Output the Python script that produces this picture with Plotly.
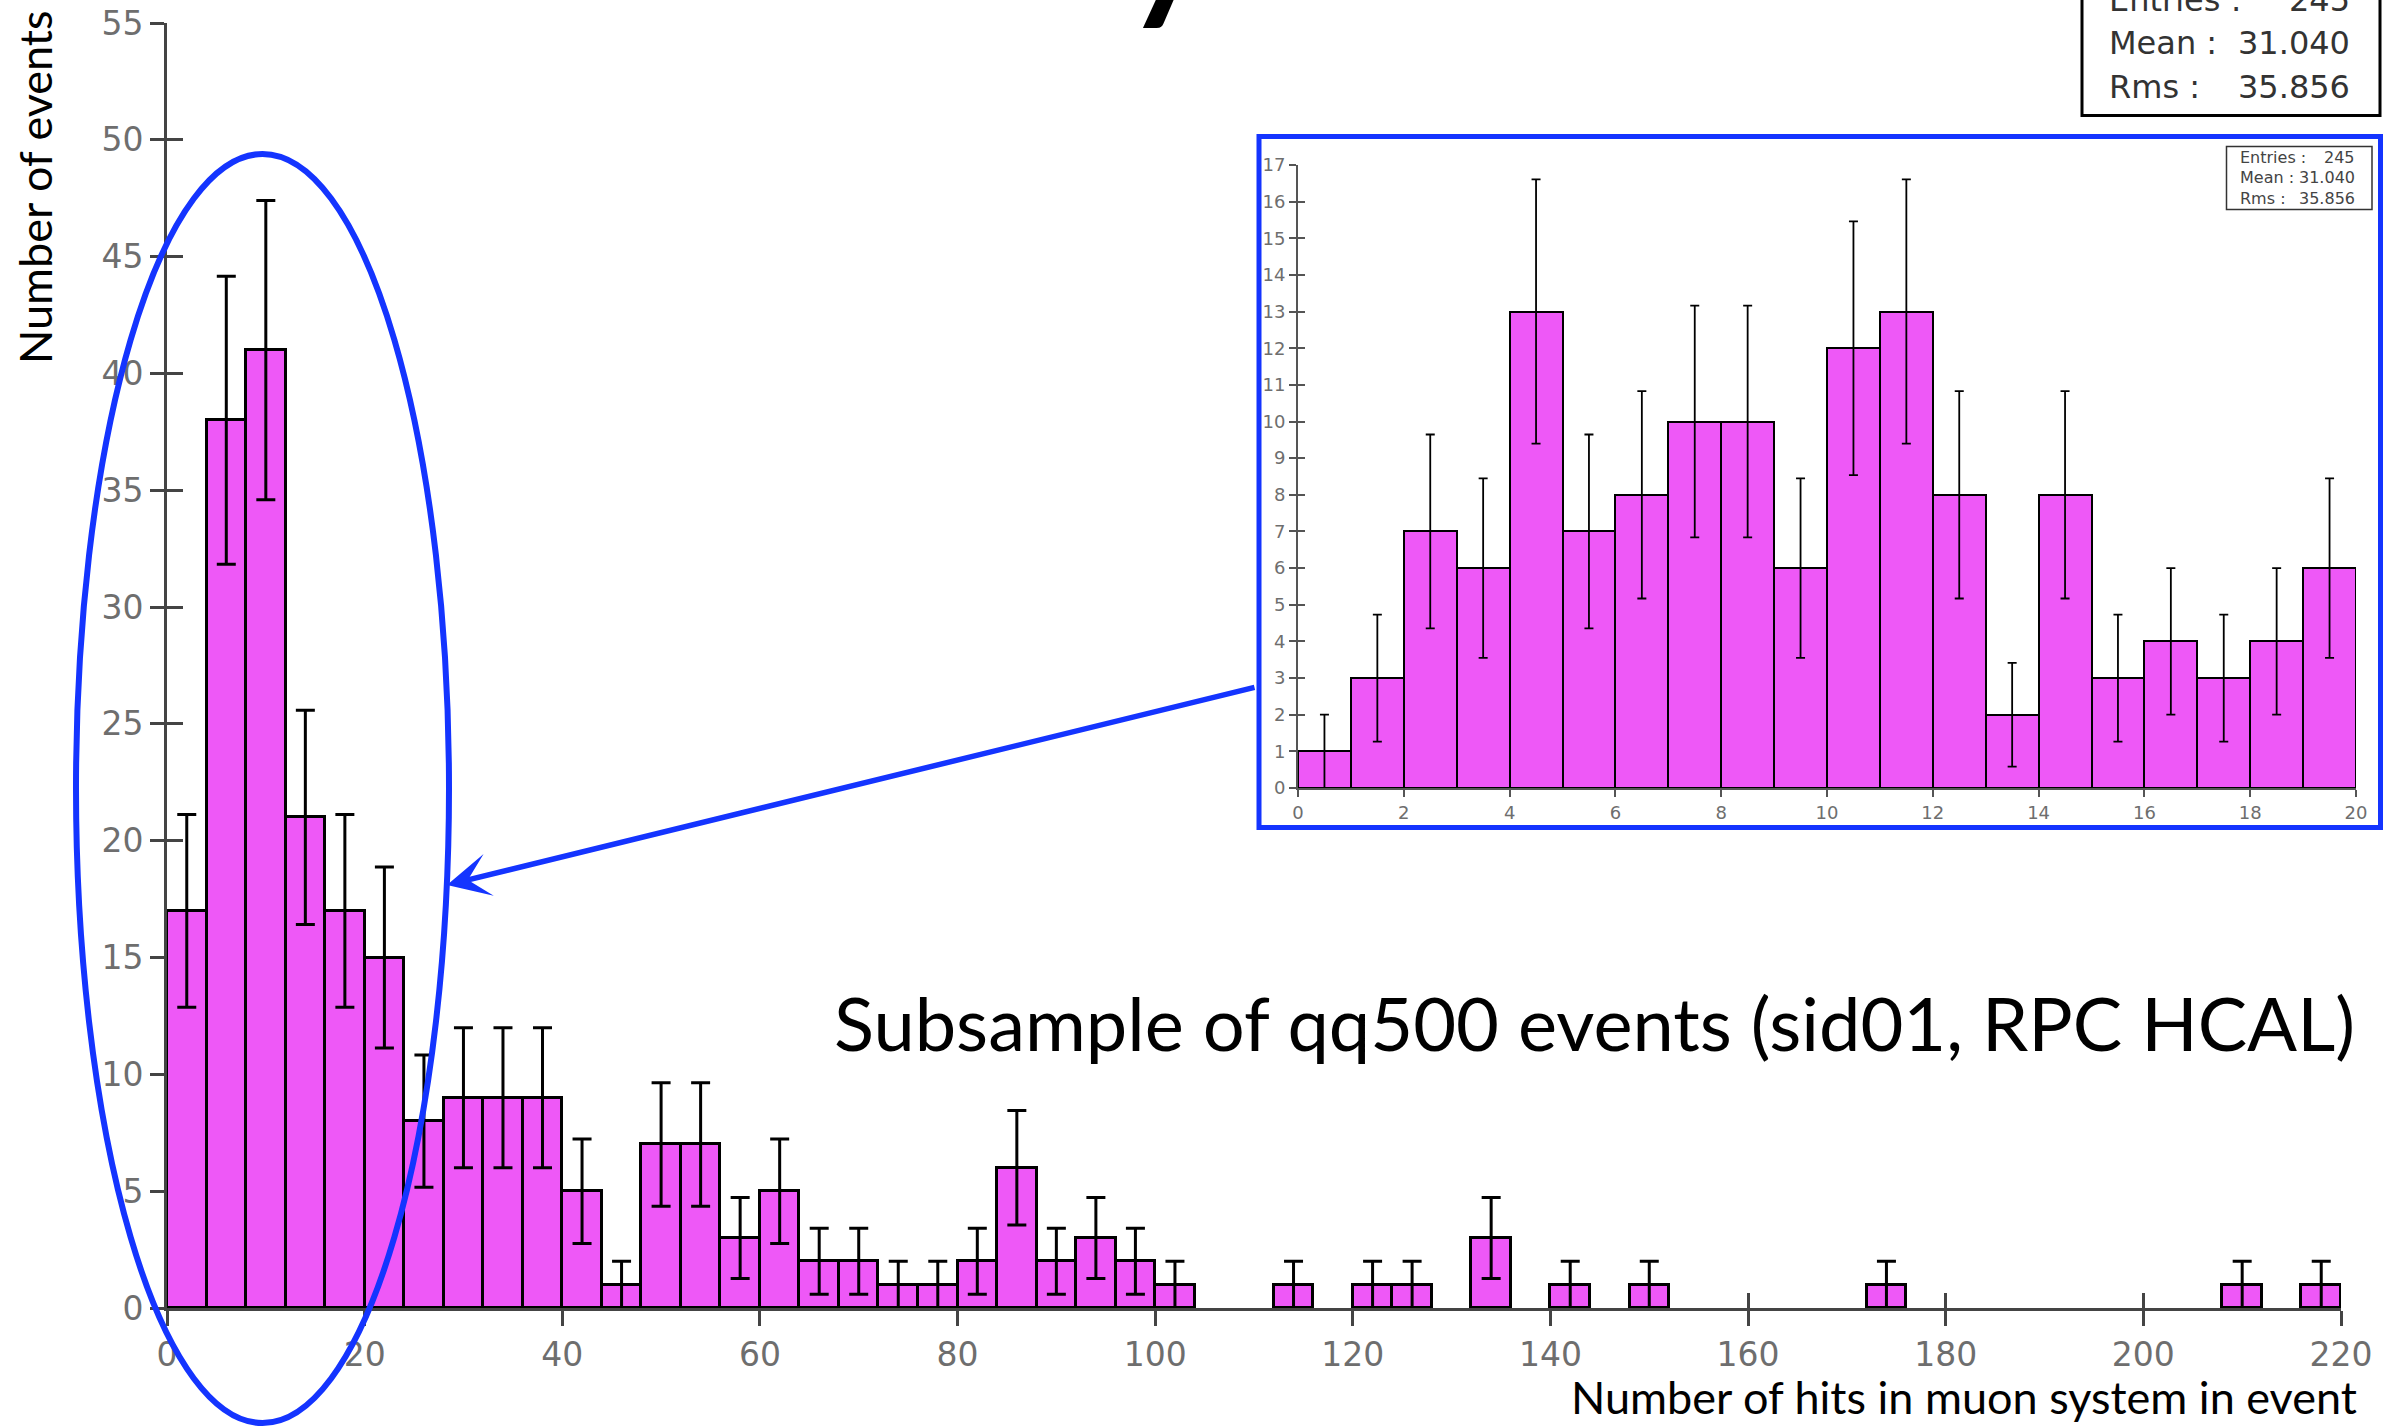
import numpy as np
import plotly.graph_objects as go

W, H = 2384, 1427

# ---------------- data ----------------
main_bin_width = 4
main_bin_left = list(range(0, 220, 4))          # 55 bins, 0..220
main_counts = [17, 38, 41, 21, 17, 15, 8, 9, 9, 9,
               5, 1, 7, 7, 3, 5, 2, 2, 1, 1,
               2, 6, 2, 3, 2, 1, 0, 0, 1, 0,
               1, 1, 0, 3, 0, 1, 0, 1, 0, 0,
               0, 0, 0, 1, 0, 0, 0, 0, 0, 0,
               0, 0, 1, 0, 1]

inset_bin_width = 1
inset_bin_left = list(range(0, 20))
inset_counts = [1, 3, 7, 6, 13, 7, 8, 10, 10, 6,
                12, 13, 8, 2, 8, 3, 4, 3, 4, 6]

main_xticks = list(range(0, 221, 20))
main_yticks = list(range(0, 56, 5))
inset_xticks = list(range(0, 21, 2))
inset_yticks = list(range(0, 18, 1))

stats_labels = ["Entries :", "Mean :", "Rms :"]
stats_values = ["245", "31.040", "35.856"]

title_text = "Muon system hits"
subtitle_text = "Subsample of qq500 events (sid01, RPC HCAL)"
x_title = "Number of hits in muon system in event"
y_title = "Number of events"

# ---------------- helpers ----------------
def px(x):
    return x / W

def py(y):
    return 1 - y / H

MAGENTA = "#EE58F7"
BLUE = "#1434FF"
AXGRAY = "#444444"
LABGRAY = "#6e6e6e"

DESC = {"Lato": 0.213, "DejaVu Sans": 0.236}

annotations = []

def text_at(text, x, baseline, size, family, xanchor="left", color="black"):
    bottom = baseline + DESC[family] * size + 1
    annotations.append(dict(
        text=text, x=px(x), y=py(bottom), xref="paper", yref="paper",
        xanchor=xanchor, yanchor="bottom", showarrow=False,
        font=dict(family=family, size=size, color=color)))

# ---------------- traces ----------------
mc = np.array(main_counts, dtype=float)
ml = np.array(main_bin_left, dtype=float)
nz = mc > 0
fig = go.Figure()
fig.add_trace(go.Bar(
    x=ml[nz] + main_bin_width / 2, y=mc[nz], width=main_bin_width,
    marker=dict(color=MAGENTA, line=dict(color="black", width=3)),
    error_y=dict(type="data", array=np.sqrt(mc[nz]), color="black",
                 thickness=3, width=9.5),
    xaxis="x", yaxis="y", showlegend=False, hoverinfo="skip"))

ic = np.array(inset_counts, dtype=float)
il = np.array(inset_bin_left, dtype=float)
fig.add_trace(go.Bar(
    x=il + inset_bin_width / 2, y=ic, width=inset_bin_width,
    marker=dict(color=MAGENTA, line=dict(color="black", width=2)),
    error_y=dict(type="data", array=np.sqrt(ic), color="black",
                 thickness=1.8, width=4.5),
    xaxis="x2", yaxis="y2", showlegend=False, hoverinfo="skip"))

# dummy traces for inside tick overlays
fig.add_trace(go.Scatter(x=[None], y=[None], xaxis="x3", yaxis="y3",
                         showlegend=False, hoverinfo="skip"))
fig.add_trace(go.Scatter(x=[None], y=[None], xaxis="x2", yaxis="y4",
                         showlegend=False, hoverinfo="skip"))

# ---------------- axes ----------------
main_xdom = [px(167), px(2341)]
main_ydom = [py(1308), py(23)]
inset_xdom = [px(1298), px(2356)]
inset_ydom = [py(788), py(165)]

tickfont_main = dict(family="DejaVu Sans", size=33, color=LABGRAY)
tickfont_inset = dict(family="DejaVu Sans", size=18, color=LABGRAY)

fig.update_layout(
    width=W, height=H, autosize=False,
    margin=dict(l=0, r=0, t=0, b=0, pad=0, autoexpand=False),
    paper_bgcolor="white", plot_bgcolor="white",
    bargap=0, barmode="overlay",
    xaxis=dict(domain=main_xdom, anchor="y", range=[0, 220],
               tickmode="array", tickvals=main_xticks,
               ticks="outside", ticklen=15, tickwidth=2.5, tickcolor=AXGRAY,
               showline=True, linecolor=AXGRAY, linewidth=3,
               showgrid=False, zeroline=False, tickfont=tickfont_main,
               automargin=False, fixedrange=True),
    yaxis=dict(domain=main_ydom, anchor="x", range=[0, 55],
               tickmode="array", tickvals=main_yticks,
               ticks="outside", ticklen=14, tickwidth=2.5, tickcolor=AXGRAY,
               showline=True, linecolor=AXGRAY, linewidth=3,
               showgrid=False, zeroline=False, tickfont=tickfont_main,
               automargin=False, fixedrange=True),
    xaxis3=dict(overlaying="x", anchor="y3", range=[0, 220],
                tickmode="array", tickvals=main_xticks,
                ticks="inside", ticklen=15, tickwidth=2.5, tickcolor=AXGRAY,
                showticklabels=False, showline=False, showgrid=False,
                zeroline=False, layer="below traces", fixedrange=True),
    yaxis3=dict(overlaying="y", anchor="x3", range=[0, 55],
                tickmode="array", tickvals=main_yticks,
                ticks="inside", ticklen=16, tickwidth=2.5, tickcolor=AXGRAY,
                showticklabels=False, showline=False, showgrid=False,
                zeroline=False, layer="below traces", fixedrange=True),
    xaxis2=dict(domain=inset_xdom, anchor="y2", range=[0, 20],
                tickmode="array", tickvals=inset_xticks,
                ticks="outside", ticklen=7, tickwidth=1.5, tickcolor="#555",
                showline=True, linecolor="#555", linewidth=2,
                showgrid=False, zeroline=False, tickfont=tickfont_inset,
                automargin=False, fixedrange=True),
    yaxis2=dict(domain=inset_ydom, anchor="x2", range=[0, 17],
                tickmode="array", tickvals=inset_yticks,
                ticks="outside", ticklen=7, tickwidth=1.5, tickcolor="#555",
                showline=True, linecolor="#555", linewidth=2,
                showgrid=False, zeroline=False, tickfont=tickfont_inset,
                automargin=False, fixedrange=True),
    yaxis4=dict(overlaying="y2", anchor="x2", range=[0, 17],
                tickmode="array", tickvals=inset_yticks,
                ticks="inside", ticklen=7, tickwidth=1.5, tickcolor="#555",
                showticklabels=False, showline=False, showgrid=False,
                zeroline=False, layer="below traces", fixedrange=True),
)

# ---------------- shapes ----------------
shapes = [
    dict(type="rect", xref="paper", yref="paper",
         x0=px(1259), x1=px(2380.5), y0=py(827.5), y1=py(136.5),
         line=dict(color=BLUE, width=5), fillcolor="rgba(0,0,0,0)", layer="above"),
    dict(type="rect", xref="paper", yref="paper",
         x0=px(2082), x1=px(2380), y0=py(115.5), y1=py(-5),
         line=dict(color="black", width=3), fillcolor="white", layer="above"),
    dict(type="rect", xref="paper", yref="paper",
         x0=px(2226.5), x1=px(2372), y0=py(209.5), y1=py(146.5),
         line=dict(color="#333", width=1.5), fillcolor="white", layer="above"),
    dict(type="circle", xref="paper", yref="paper",
         x0=px(76), x1=px(449), y0=py(1423), y1=py(154),
         line=dict(color=BLUE, width=6), fillcolor="rgba(0,0,0,0)", layer="above"),
]
fig.update_layout(shapes=shapes)

# ---------------- texts ----------------
text_at(title_text, 1243, -7, 210, "Lato", xanchor="center")
text_at(subtitle_text, 2357, 1052, 74, "Lato", xanchor="right")
text_at(x_title, 2359, 1415, 45, "Lato", xanchor="right")

annotations.append(dict(
    text=y_title, x=px(35), y=py(188), xref="paper", yref="paper",
    xanchor="center", yanchor="middle", textangle=-90, showarrow=False,
    font=dict(family="Lato", size=45, color="black")))

main_baselines = [12, 55, 99]
for lab, val, b in zip(stats_labels, stats_values, main_baselines):
    text_at(lab, 2107, b, 32, "DejaVu Sans", xanchor="left", color="#333")
    text_at(val, 2352, b, 32, "DejaVu Sans", xanchor="right", color="#333")

inset_baselines = [164, 184, 205]
for lab, val, b in zip(stats_labels, stats_values, inset_baselines):
    text_at(lab, 2238, b, 16, "DejaVu Sans", xanchor="left", color="#444")
    text_at(val, 2357, b, 16, "DejaVu Sans", xanchor="right", color="#444")

annotations.append(dict(
    text="", x=px(447), y=py(885), xref="paper", yref="paper",
    ax=1256 - 447, ay=687 - 885, axref="pixel", ayref="pixel",
    showarrow=True, arrowhead=3, arrowsize=1.3, arrowwidth=5.5,
    arrowcolor=BLUE, standoff=0, startstandoff=0))

fig.update_layout(annotations=annotations)

fig.write_html(
    "out.html",
    post_script="document.body.style.margin='0';document.body.style.overflow='hidden';")
